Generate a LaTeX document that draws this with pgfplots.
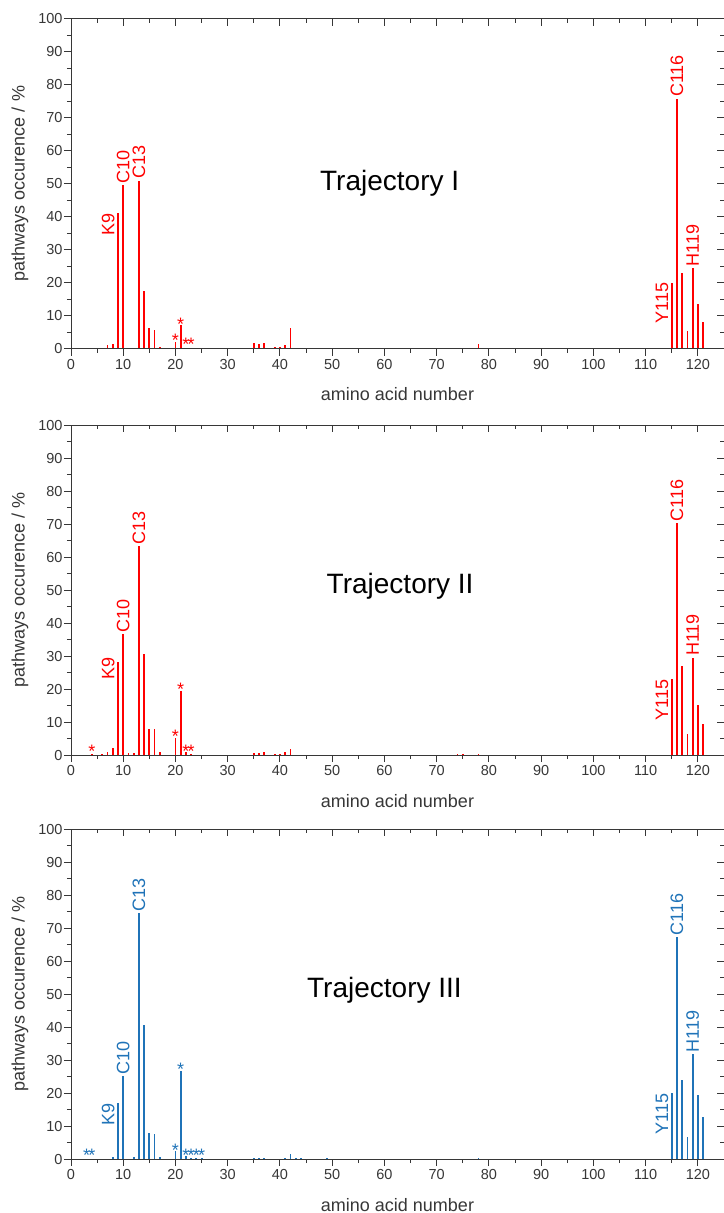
\documentclass[border=0pt]{standalone}
\usepackage{pgfplots}
\usepackage{pgfplotstable}
\pgfplotsset{compat=1.18}
\usepackage{fontspec}
\setmainfont{Liberation Sans}

\definecolor{tred}{RGB}{255,0,0}
\definecolor{tblue}{RGB}{31,115,184}
\definecolor{axgray}{RGB}{55,55,55}

% amino acid number, pathways occurence in %
\pgfplotstableread{
res occ
7 1.2
8 1.5
9 41.0
10 49.4
11 0.3
12 0.2
13 50.9
14 17.4
15 6.3
16 5.7
17 0.4
20 2.0
21 7.1
22 0.2
23 0.2
35 1.6
36 1.4
37 1.7
39 0.4
40 0.4
41 1.1
42 6.2
74 0.2
75 0.3
78 1.4
114 0.2
115 20.0
116 75.7
117 22.8
118 5.3
119 24.3
120 13.4
121 8.1
}\trajI

\pgfplotstableread{
res occ
4 0.2
6 0.2
7 1.0
8 2.0
9 28.3
10 36.7
11 0.6
12 0.5
13 63.3
14 30.7
15 7.8
16 7.8
17 1.0
20 5.3
21 19.5
22 0.8
23 0.2
29 0.1
35 0.7
36 0.6
37 1.0
39 0.4
40 0.3
41 0.8
42 1.9
43 0.1
44 0.1
45 0.1
49 0.1
74 0.3
75 0.4
76 0.1
78 0.3
81 0.1
113 0.1
114 0.1
115 23.0
116 70.2
117 27.1
118 6.3
119 29.5
120 15.2
121 9.3
123 0.1
}\trajII

\pgfplotstableread{
res occ
3 0.1
4 0.1
8 0.5
9 16.9
10 25.2
12 0.6
13 74.6
14 40.7
15 7.9
16 7.7
17 0.5
20 2.4
21 26.8
22 0.9
23 0.3
24 0.2
25 0.2
35 0.3
36 0.3
37 0.3
41 0.3
42 1.6
43 0.4
44 0.2
45 0.1
49 0.2
74 0.1
78 0.2
115 19.9
116 67.3
117 24.0
118 6.8
119 31.8
120 19.4
121 12.8
122 0.1
}\trajIII

\pgfplotsset{
  panel/.style={
    scale only axis, width=653pt, height=330pt,
    xmin=0, xmax=125, ymin=0, ymax=100,
    xtick={0,10,...,120}, ytick={0,10,...,100},
    minor x tick num=1, minor y tick num=1,
    major tick length=7pt, minor tick length=4pt,
    axis line style={axgray, line width=1pt},
    every tick/.append style={axgray, line width=1pt},
    anchor=south west, clip=false,
  },
  mainaxis/.style={
    panel, tick align=outside, xtick pos=bottom, ytick pos=left,
    /pgf/number format/assume math mode=true,
    tick label style={font=\fontsize{14.5}{16}\selectfont, text=axgray},
    yticklabel style={xshift=2pt},
    xlabel={amino acid number}, ylabel={pathways occurence / \%},
    label style={font=\fontsize{18}{20}\selectfont, text=axgray},
    xlabel style={at={(axis description cs:0.5,0)}, anchor=center, yshift=-46pt},
    ylabel style={at={(axis description cs:-0.078,0.5)}, anchor=center},
  },
  frameaxis/.style={
    panel, tick align=inside, xtick pos=top, ytick pos=right,
    xticklabels={}, yticklabels={},
  },
}
\tikzset{
  resid/.style={rotate=90, anchor=west, font=\fontsize{18}{20}\selectfont, inner xsep=1.5pt, inner ysep=0pt},
  residl/.style={rotate=90, anchor=base east, font=\fontsize{18}{20}\selectfont, inner sep=0pt},
  star/.style={anchor=base, font=\fontsize{18}{20}\selectfont, inner sep=0pt, yshift=-5pt},
  ttl/.style={font=\fontsize{28}{32}\selectfont, text=black},
}

\begin{document}
\begin{tikzpicture}
% Trajectory I
\begin{axis}[mainaxis, at={(71pt,-348.5pt)}]
  \addplot[ycomb, no markers, tred, line width=1.8pt] table[x=res, y=occ] {\trajI};
  \node[ttl] at (axis cs:61,50) {Trajectory I};
  \begin{scope}[tred]
    \node[residl] at (axis cs:8.3,41.0) {K9};
    \node[resid] at (axis cs:10,49.4) {C10};
    \node[resid] at (axis cs:13,50.9) {C13};
    \node[residl] at (axis cs:114.3,20.0) {Y115};
    \node[resid] at (axis cs:116,75.7) {C116};
    \node[resid] at (axis cs:119,24.3) {H119};
    \node[star] at (axis cs:20,2.0) {*};
    \node[star] at (axis cs:21,7.1) {*};
    \node[star] at (axis cs:22,0.8) {*};
    \node[star] at (axis cs:23,0.8) {*};
  \end{scope}
\end{axis}
\begin{axis}[frameaxis, at={(71pt,-348.5pt)}]
\end{axis}

% Trajectory II
\begin{axis}[mainaxis, at={(71pt,-755pt)}]
  \addplot[ycomb, no markers, tred, line width=1.8pt] table[x=res, y=occ] {\trajII};
  \node[ttl] at (axis cs:63,51) {Trajectory II};
  \begin{scope}[tred]
    \node[residl] at (axis cs:8.3,29.5) {K9};
    \node[resid] at (axis cs:10,36.7) {C10};
    \node[resid] at (axis cs:13,63.3) {C13};
    \node[residl] at (axis cs:114.3,23.0) {Y115};
    \node[resid] at (axis cs:116,70.2) {C116};
    \node[resid] at (axis cs:119,29.5) {H119};
    \node[star] at (axis cs:4,0.8) {*};
    \node[star] at (axis cs:20,5.3) {*};
    \node[star] at (axis cs:21,19.5) {*};
    \node[star] at (axis cs:22,0.8) {*};
    \node[star] at (axis cs:23,0.8) {*};
  \end{scope}
\end{axis}
\begin{axis}[frameaxis, at={(71pt,-755pt)}]
\end{axis}

% Trajectory III
\begin{axis}[mainaxis, at={(71pt,-1159pt)}]
  \addplot[ycomb, no markers, tblue, line width=1.8pt] table[x=res, y=occ] {\trajIII};
  \node[ttl] at (axis cs:60,51) {Trajectory III};
  \begin{scope}[tblue]
    \node[residl] at (axis cs:8.3,16.9) {K9};
    \node[resid] at (axis cs:10,25.2) {C10};
    \node[resid] at (axis cs:13,74.6) {C13};
    \node[residl] at (axis cs:114.3,19.9) {Y115};
    \node[resid] at (axis cs:116,67.3) {C116};
    \node[resid] at (axis cs:119,31.8) {H119};
    \node[star] at (axis cs:3,0.8) {*};
    \node[star] at (axis cs:4,0.8) {*};
    \node[star] at (axis cs:20,2.4) {*};
    \node[star] at (axis cs:21,26.8) {*};
    \node[star] at (axis cs:22,0.9) {*};
    \node[star] at (axis cs:23,0.8) {*};
    \node[star] at (axis cs:24,0.8) {*};
    \node[star] at (axis cs:25,0.8) {*};
  \end{scope}
\end{axis}
\begin{axis}[frameaxis, at={(71pt,-1159pt)}]
\end{axis}

\pgfresetboundingbox
\path[use as bounding box] (0,0) rectangle (723pt,-1213pt);
\end{tikzpicture}
\end{document}
